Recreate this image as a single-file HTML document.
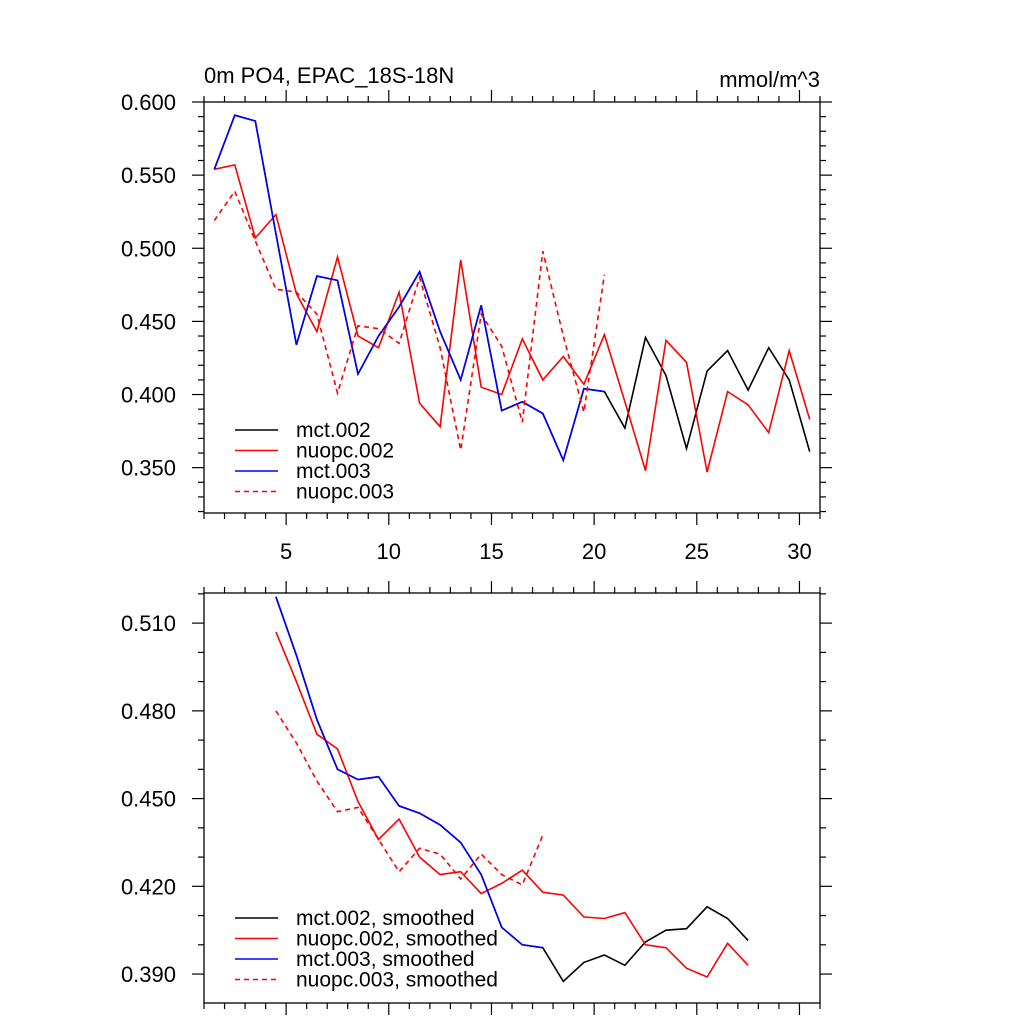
<!DOCTYPE html>
<html><head><meta charset="utf-8"><style>
body{margin:0;background:#fff}
svg{display:block;font-family:"Liberation Sans",sans-serif}
</style></head><body>
<svg id="c" width="1024" height="1024" xmlns="http://www.w3.org/2000/svg">
<text x="204" y="83" font-size="22">0m PO4, EPAC_18S-18N</text>
<text x="820" y="87" font-size="22" text-anchor="end">mmol/m^3</text>
</svg>
<script>
const xTickLabels=[5,10,15,20,25,30];
const topYTicks=[0.600,0.550,0.500,0.450,0.400,0.350];
const botYTicks=[0.510,0.480,0.450,0.420,0.390];
const topX=[1.5,2.5,3.5,4.5,5.5,6.5,7.5,8.5,9.5,10.5,11.5,12.5,13.5,14.5,15.5,16.5,17.5,18.5,19.5,20.5,21.5,22.5,23.5,24.5,25.5,26.5,27.5,28.5,29.5,30.5];
const mct002=[0.554,0.591,0.587,0.510,0.434,0.481,0.478,0.414,0.440,0.460,0.484,0.443,0.410,0.461,0.389,0.395,0.387,0.355,0.404,0.402,0.377,0.439,0.413,0.363,0.416,0.430,0.403,0.432,0.410,0.361];
const nuopc002=[0.554,0.557,0.507,0.523,0.469,0.443,0.494,0.440,0.432,0.470,0.394,0.378,0.492,0.405,0.400,0.438,0.410,0.426,0.407,0.441,0.395,0.348,0.437,0.422,0.347,0.402,0.393,0.374,0.430,0.383];
const mct003=[0.554,0.591,0.587,0.510,0.434,0.481,0.478,0.414,0.440,0.460,0.484,0.443,0.410,0.461,0.389,0.395,0.387,0.355,0.404,0.402];
const nuopc003=[0.519,0.539,0.505,0.472,0.470,0.455,0.401,0.447,0.445,0.435,0.480,0.432,0.362,0.455,0.433,0.381,0.498,0.440,0.388,0.482];
const botX=[4.5,5.5,6.5,7.5,8.5,9.5,10.5,11.5,12.5,13.5,14.5,15.5,16.5,17.5,18.5,19.5,20.5,21.5,22.5,23.5,24.5,25.5,26.5,27.5];
const mct002s=[0.519,0.499,0.477,0.460,0.4565,0.4575,0.4475,0.445,0.441,0.435,0.424,0.406,0.400,0.399,0.3875,0.394,0.3965,0.393,0.401,0.405,0.4055,0.413,0.409,0.4015];
const nuopc002s=[0.507,0.490,0.472,0.467,0.449,0.436,0.443,0.430,0.424,0.425,0.4175,0.421,0.4255,0.418,0.417,0.4095,0.409,0.411,0.400,0.399,0.392,0.389,0.4005,0.393];
const mct003s=[0.519,0.499,0.477,0.460,0.4565,0.4575,0.4475,0.445,0.441,0.435,0.424,0.406,0.400,0.399];
const nuopc003s=[0.480,0.469,0.456,0.4455,0.447,0.436,0.425,0.433,0.431,0.4225,0.431,0.424,0.4205,0.4375];

const svg=document.getElementById('c');const NS='http://www.w3.org/2000/svg';
function mk(t,a,p){const e=document.createElementNS(NS,t);for(const k in a)e.setAttribute(k,a[k]);(p||svg).appendChild(e);return e;}
const L=204,R=820,X0=1,X1=31;
const xs=v=>L+(v-X0)/(X1-X0)*(R-L);
function panel(name,T,B,y0,y1,yt,minStep,showX){
  const ys=v=>B-(v-y0)/(y1-y0)*(B-T);
  const g=mk('g',{});
  
  
  mk('rect',{x:L,y:T,width:R-L,height:B-T,fill:'none',stroke:'#000','stroke-width':1.3},g);
  for(let x=X0;x<=X1;x++){const px=xs(x);const maj=x%5==0;const len=maj?12:6;
    mk('line',{x1:px,y1:B,x2:px,y2:B+len,stroke:'#000','stroke-width':1.2},g);
    mk('line',{x1:px,y1:T,x2:px,y2:T-len,stroke:'#000','stroke-width':1.2},g);}
  if(showX) xTickLabels.forEach(v=>{const t=mk('text',{x:xs(v),y:B+46,'font-size':22,'text-anchor':'middle'},g);t.textContent=v;
    });
  const n0=Math.ceil(y0/minStep-1e-6),n1=Math.floor(y1/minStep+1e-6);
  for(let i=n0;i<=n1;i++){const v=i*minStep;const maj=yt.some(t=>Math.abs(t-v)<1e-6);const len=maj?12:6;const py=ys(v);
    mk('line',{x1:L,y1:py,x2:L-len,y2:py,stroke:'#000','stroke-width':1.2},g);
    mk('line',{x1:R,y1:py,x2:R+len,y2:py,stroke:'#000','stroke-width':1.2},g);}
  yt.forEach(v=>{const t=mk('text',{x:176,y:ys(v)+8,'font-size':22,'text-anchor':'end'},g);t.textContent=v.toFixed(3);
    });
  return {g,ys};
}
function series(p,X,Y,col,dash,name){
  const d=Y.map((v,i)=>(i?'L':'M')+xs(X[i]).toFixed(1)+','+p.ys(v).toFixed(1)).join('');
  const e=mk('path',{d:d,fill:'none',stroke:col,'stroke-width':1.6,'stroke-dasharray':dash?'5,4':'none'},p.g);
  
  
}
function legend(p,y0,labels){
  const cols=['#000','#f00','#00f','#f00'];
  labels.forEach((lb,i)=>{const y=y0+i*20.5;
    const ln=mk('line',{x1:235,y1:y,x2:278,y2:y,stroke:cols[i],'stroke-width':1.6,'stroke-dasharray':i==3?'5,4':'none'},p.g);
    
    const t=mk('text',{x:296,y:y+7,'font-size':21},p.g);t.textContent=lb;
    });
}
const p1=panel('top-panel',102,513,0.319,0.600,topYTicks,0.01,true);
series(p1,topX,mct002,'#000',false,'line-mct-002');
series(p1,topX,nuopc002,'#f00',false,'line-nuopc-002');
series(p1,topX,mct003,'#00f',false,'line-mct-003');
series(p1,topX,nuopc003,'#f00',true,'line-nuopc-003');
legend(p1,430,['mct.002','nuopc.002','mct.003','nuopc.003']);
const p2=panel('bottom-panel',593,1003,0.3801,0.5203,botYTicks,0.01,false);
series(p2,botX,mct002s,'#000',false,'line-mct-002-smoothed');
series(p2,botX,nuopc002s,'#f00',false,'line-nuopc-002-smoothed');
series(p2,botX,mct003s,'#00f',false,'line-mct-003-smoothed');
series(p2,botX,nuopc003s,'#f00',true,'line-nuopc-003-smoothed');
legend(p2,918,['mct.002, smoothed','nuopc.002, smoothed','mct.003, smoothed','nuopc.003, smoothed']);
</script>
</body></html>
